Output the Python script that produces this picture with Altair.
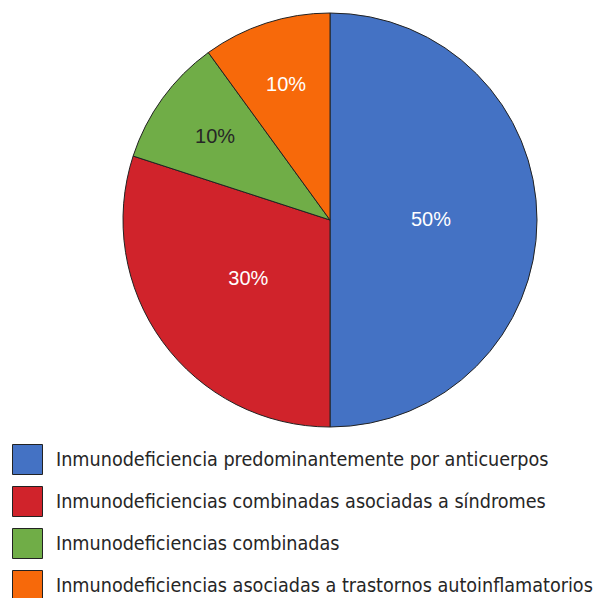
import altair as alt
import pandas as pd

categories = [
    "Inmunodeficiencia predominantemente por anticuerpos",
    "Inmunodeficiencias combinadas asociadas a síndromes",
    "Inmunodeficiencias combinadas",
    "Inmunodeficiencias asociadas a trastornos autoinflamatorios",
]
values = [50, 30, 10, 10]
labels = ["50%", "30%", "10%", "10%"]
colors = ["#4472C4", "#D0232B", "#70AD47", "#F7690A"]
label_colors = ["white", "white", "#262626", "white"]

df = pd.DataFrame({
    "cat": categories,
    "value": values,
    "label": labels,
    "order": list(range(len(categories))),
    "lc": label_colors,
})

CX, CY, R = 322, 212, 207

pie = alt.Chart(df).mark_arc(stroke="#222222", strokeWidth=1).encode(
    theta=alt.Theta("value:Q", stack=True),
    order=alt.Order("order:Q"),
    x=alt.value(CX),
    y=alt.value(CY),
    radius=alt.value(R),
    color=alt.Color(
        "cat:N",
        scale=alt.Scale(domain=categories, range=colors),
        sort=categories,
        legend=alt.Legend(
            title=None,
            orient="none",
            legendX=4,
            legendY=436,
            symbolType="square",
            symbolSize=900,
            symbolStrokeColor="#222222",
            symbolStrokeWidth=1,
            symbolOpacity=1,
            labelFont="DejaVu Sans Condensed, Roboto",
            labelFontSize=19.6,
            labelColor="#262626",
            labelOffset=13,
            labelLimit=700,
            rowPadding=7,
            padding=0,
        ),
    ),
)


def label_layer(cond, rad):
    return alt.Chart(df).transform_stack(
        stack="value", groupby=[], as_=["v0", "v1"], sort=[alt.SortField("order")]
    ).transform_calculate(
        mid="(datum.v0 + datum.v1) / 2"
    ).transform_filter(cond).mark_text(
        font="Liberation Sans", fontSize=20, baseline="middle", align="center"
    ).encode(
        theta=alt.Theta("mid:Q", scale=alt.Scale(domain=[0, 100]), stack=None),
        x=alt.value(CX),
        y=alt.value(CY),
        radius=alt.value(rad),
        text="label:N",
        color=alt.Color("lc:N", scale=None),
    )


chart = alt.layer(
    pie,
    label_layer(alt.datum.value > 20, 101),
    label_layer(alt.datum.value <= 20, 142),
).properties(
    width=589, height=590, padding=0, autosize=alt.AutoSizeParams(type="none")
).configure_view(stroke=None)

chart.save("out.html", embed_options={"renderer": "svg", "actions": False})
